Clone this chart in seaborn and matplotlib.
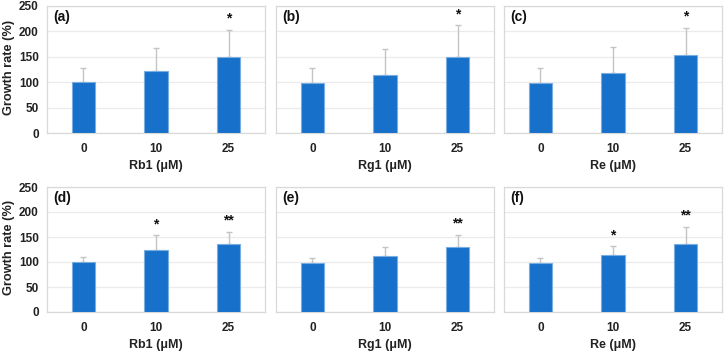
import numpy as np
import pandas as pd
import matplotlib
matplotlib.use('Agg')
import matplotlib.pyplot as plt
import seaborn as sns

# concentrations on the x axis
conc = ['0', '10', '25']

# panel labels, compounds, means, upper errors, significance marks
panels = ['(a)', '(b)', '(c)', '(d)', '(e)', '(f)']
compounds = ['Rb1', 'Rg1', 'Re', 'Rb1', 'Rg1', 'Re']

mean_a = [100, 122, 150]
err_a = [28, 46, 53]
mean_b = [98, 115, 150]
err_b = [30, 50, 62]
mean_c = [98, 119, 153]
err_c = [30, 50, 54]
mean_d = [100, 124, 136]
err_d = [10, 30, 25]
mean_e = [99, 113, 131]
err_e = [10, 17, 24]
mean_f = [98, 115, 136]
err_f = [11, 17, 35]

stars_a = ['', '', '*']
stars_b = ['', '', '*']
stars_c = ['', '', '*']
stars_d = ['', '*', '**']
stars_e = ['', '', '**']
stars_f = ['', '*', '**']

means = [mean_a, mean_b, mean_c, mean_d, mean_e, mean_f]
errs = [err_a, err_b, err_c, err_d, err_e, err_f]
stars = [stars_a, stars_b, stars_c, stars_d, stars_e, stars_f]

sns.set_theme(style='white')
plt.rcParams['font.family'] = ['Liberation Sans', 'DejaVu Sans']
plt.rcParams['font.weight'] = 'bold'

bar_color = '#1770c9'
edge_color = '#7aaee0'
err_color = '#c4c4c4'
grid_color = '#ebebeb'
spine_color = '#d9d9d9'

W, H = 725, 353
fig = plt.figure(figsize=(W / 100, H / 100), dpi=100)

# axes boxes in pixels: left, top, width, height
lefts = [47, 276, 504]
rows = [(6, 127), (187, 125)]

for i in range(6):
    r, c = divmod(i, 3)
    top, h = rows[r]
    ax = fig.add_axes([lefts[c] / W, (H - top - h) / H, 218 / W, h / H])

    df = pd.DataFrame({'conc': conc, 'rate': means[i]})
    sns.barplot(data=df, x='conc', y='rate', order=conc, color=bar_color,
                width=0.32, saturation=1, edgecolor=edge_color, linewidth=0.8,
                errorbar=None, ax=ax, zorder=3)

    xpos = np.arange(len(conc))
    ax.errorbar(xpos, means[i], yerr=[np.zeros(len(conc)), errs[i]],
                fmt='none', ecolor=err_color, elinewidth=1.0, capsize=2,
                capthick=1.0, zorder=2)

    for x, m, e, s in zip(xpos, means[i], errs[i], stars[i]):
        if s:
            ax.text(x, m + e + 8, s, ha='center', va='bottom',
                    fontsize=10, fontweight='bold', color='#111111')

    ax.set_ylim(0, 250)
    ax.set_xlim(-0.5, 2.5)
    ax.set_yticks([0, 50, 100, 150, 200, 250])
    ax.yaxis.grid(True, color=grid_color, linewidth=0.9)
    ax.set_axisbelow(True)
    for sp in ax.spines.values():
        sp.set_color(spine_color)
        sp.set_linewidth(0.9)

    ax.tick_params(axis='both', length=0, labelsize=8.5, colors='#222222')
    ax.tick_params(axis='x', pad=7)
    ax.tick_params(axis='y', pad=6)
    for lab in ax.get_xticklabels() + ax.get_yticklabels():
        lab.set_fontweight('bold')

    ax.set_xlabel(f'{compounds[i]} (μM)', fontsize=9, fontweight='bold',
                  color='#222222', labelpad=4)
    if c == 0:
        ax.set_ylabel('Growth rate (%)', fontsize=9.2, fontweight='bold',
                      color='#222222')
        ax.yaxis.set_label_coords(-0.145, 0.52)
    else:
        ax.set_ylabel('')
        ax.set_yticklabels([])

    ax.text(0.03, 0.915, panels[i], transform=ax.transAxes, ha='left',
            va='center', fontsize=10, fontweight='bold', color='#111111')

fig.savefig('out.png', dpi=100, facecolor='white')
